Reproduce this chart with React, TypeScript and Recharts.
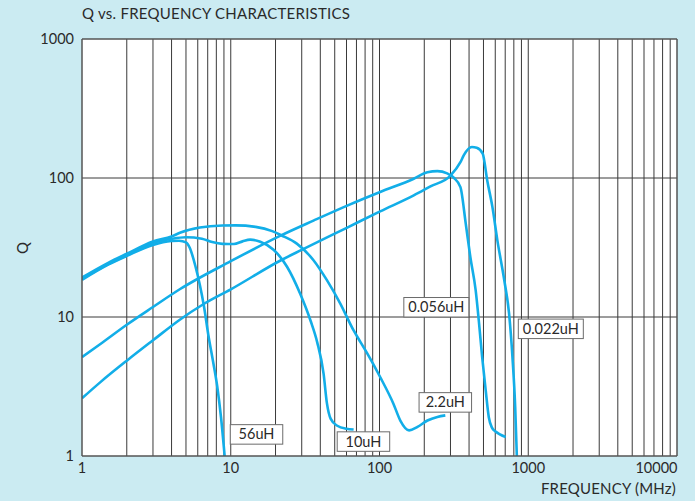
import React from 'react';
import { LineChart, Line, XAxis, YAxis, CartesianGrid, ReferenceLine, ReferenceDot } from 'recharts';

// ---- axis ticks ----
const xTicks = [1, 10, 100, 1000, 10000];
const yTicks = [1, 10, 100, 1000];
const yGridValues = [10, 100];

// vertical minor grid values (1..9 x 10^k)
const xGridValues: number[] = [];
for (let k = 0; k < 4; k++) {
  for (let m = 1; m <= 9; m++) {
    if (k === 0 && m === 1) continue;
    xGridValues.push(m * Math.pow(10, k));
  }
}

// ---- series: [frequency MHz, Q] ----
const q56uH: [number, number][] = [
  [1, 18.5], [1.5, 23.8], [2, 27.5], [3, 33], [4, 35.2], [4.5, 35.4], [5, 34.4], [5.3, 31.5],
  [5.8, 23], [6.2, 17], [6.6, 12], [7.1, 7.2], [7.6, 4.8], [8.1, 3.2], [8.6, 1.9], [9.1, 1],
];
const q10uH: [number, number][] = [
  [1, 18.8], [1.5, 24], [2, 27.8], [3, 34], [4, 36.5], [5, 37.5], [6.4, 36.6], [7.5, 34.6],
  [8.8, 33.6], [10.5, 33.5], [12, 35], [13.5, 36], [15.8, 34.8], [19.4, 30.5], [23.9, 23],
  [29.3, 14.7], [34.4, 9.4], [38.1, 6.6], [42.1, 3.9], [44.3, 2.4], [47, 1.85], [52, 1.65],
  [60, 1.57], [67, 1.55],
];
const q2_2uH: [number, number][] = [
  [1, 19.2], [1.5, 24.5], [2, 28.5], [3, 35], [4, 38], [4.6, 40.5], [6.2, 44], [8.8, 45.5],
  [10.8, 45.6], [14.7, 44.5], [19, 41.5], [22, 38.6], [27.8, 33.7], [36, 25.6], [44.3, 18.4],
  [54.5, 12.5], [67, 8.0], [74.5, 6.6], [82.5, 5.5], [101, 3.7], [124, 2.38], [138, 1.8],
  [158, 1.53], [180, 1.62], [210, 1.8], [245, 1.91], [277, 1.96],
];
const q0_056uH: [number, number][] = [
  [1, 5.15], [1.33, 6.4], [2, 8.8], [3, 11.8], [4.57, 15.9], [10, 25.2], [21.6, 38.5], [36, 49.4],
  [60.7, 63.3], [101, 79.3], [170, 98.8], [210, 110], [245, 112], [285, 108], [317, 100],
  [350, 86], [380, 47], [408, 27], [443, 15.6], [467, 9], [490, 5.15], [517, 3.0], [543, 1.9],
  [570, 1.6], [603, 1.5], [705, 1.37],
];
const q0_022uH: [number, number][] = [
  [1, 2.6], [1.33, 3.4], [2, 4.85], [3, 6.8], [4.57, 9.6], [6.5, 12.3], [10, 15.8], [21.6, 25.5],
  [30.2, 30.5], [60.7, 44], [101, 57.5], [170, 75], [220, 87], [300, 104], [350, 130], [369, 146],
  [418, 167], [450, 165], [494, 150], [530, 96], [574, 62], [620, 35.6], [690, 18.4],
  [743, 10.6], [783, 5.15], [817, 2.25], [838, 1],
];

const seriesList = [
  { name: '56uH', points: q56uH },
  { name: '10uH', points: q10uH },
  { name: '2.2uH', points: q2_2uH },
  { name: '0.056uH', points: q0_056uH },
  { name: '0.022uH', points: q0_022uH },
];

// annotation boxes, anchored in data coordinates
const annotations = [
  { text: '56uH', f: 14.9, q: 1.43 },
  { text: '10uH', f: 78, q: 1.27 },
  { text: '2.2uH', f: 277, q: 2.43 },
  { text: '0.056uH', f: 241, q: 11.75 },
  { text: '0.022uH', f: 1418, q: 8.22 },
];

const FONT = 'Lato, "Open Sans", sans-serif';
const TEXT = '#2a2a2a';
const CURVE = '#12aee8';
const GRID = '#3a3a3a';

const XTick = (props: any) => {
  const { x, y, payload } = props;
  const last = payload.value === 10000;
  return (
    <text x={last ? x + 0.5 : x} y={y} dy={17} textAnchor={last ? 'end' : 'middle'}
      fontFamily={FONT} fontSize={14.5} fill={TEXT}>
      {payload.value}
    </text>
  );
};

const YTick = (props: any) => {
  const { x, y, payload } = props;
  return (
    <text x={x - 8} y={y} dy={5} textAnchor="end" fontFamily={FONT} fontSize={14.5} fill={TEXT}>
      {payload.value}
    </text>
  );
};

const AnnotationBox = (text: string) => (props: any) => {
  const { cx, cy } = props;
  const w = text.length > 5 ? 65 : 52.5;
  const h = 19.5;
  return (
    <g>
      <rect x={cx - w / 2} y={cy - h / 2} width={w} height={h} fill="#fff" stroke="#6b6b6b" strokeWidth={1} />
      <text x={cx} y={cy} dy={5} textAnchor="middle" fontFamily={FONT} fontSize={14.5} fill={TEXT}>
        {text}
      </text>
    </g>
  );
};

export default function App() {
  return (
    <div style={{ position: 'absolute', left: 0, top: 0, width: 695, height: 501, background: '#cbebf2', overflow: 'hidden' }}>
      <div style={{ position: 'absolute', left: 82, top: 4, fontFamily: FONT, fontSize: 15, letterSpacing: 0.25, color: TEXT, whiteSpace: 'nowrap' }}>
        Q vs. FREQUENCY CHARACTERISTICS
      </div>
      <div style={{ position: 'absolute', left: 15, top: 240, width: 14, height: 16, fontFamily: FONT, fontSize: 15, color: TEXT, transform: 'rotate(-90deg)', lineHeight: '16px', textAlign: 'center' }}>
        Q
      </div>
      <div style={{ position: 'absolute', right: 19, top: 479, fontFamily: FONT, fontSize: 15, letterSpacing: 0.2, color: TEXT, whiteSpace: 'nowrap' }}>
        FREQUENCY (MHz)
      </div>
      <div style={{ position: 'absolute', left: 0, top: 0 }}>
        <LineChart width={695} height={501} margin={{ top: 39, right: 18, bottom: 0, left: 0 }}>
          <CartesianGrid horizontal={false} vertical={false} fill="#ffffff" />
          <XAxis
            dataKey="f" type="number" scale="log" domain={[1, 10000]} ticks={xTicks}
            allowDataOverflow height={45} tickLine={false} tickSize={0} tickMargin={0}
            axisLine={{ stroke: '#555', strokeWidth: 1.5 }} tick={<XTick />} interval={0}
          />
          <YAxis
            dataKey="q" type="number" scale="log" domain={[1, 1000]} ticks={yTicks}
            allowDataOverflow width={82} tickLine={false} tickSize={0} tickMargin={0}
            axisLine={{ stroke: '#555', strokeWidth: 1.5 }} tick={<YTick />} interval={0}
          />
          {xGridValues.map((v) => (
            <ReferenceLine key={'gx' + v} x={v} stroke={GRID} strokeWidth={1} />
          ))}
          {yGridValues.map((v) => (
            <ReferenceLine key={'gy' + v} y={v} stroke={GRID} strokeWidth={1} />
          ))}
          <ReferenceLine y={1000} stroke="#555" strokeWidth={1.5} />
          <ReferenceLine x={10000} stroke="#555" strokeWidth={1.5} />
          {seriesList.map((s) => (
            <Line
              key={s.name}
              name={s.name}
              data={s.points.map(([f, q]) => ({ f, q }))}
              dataKey="q"
              type="monotone"
              stroke={CURVE}
              strokeWidth={2.6}
              dot={false}
              activeDot={false}
              isAnimationActive={false}
            />
          ))}
          {annotations.map((a) => (
            <ReferenceDot key={a.text} x={a.f} y={a.q} r={0} shape={AnnotationBox(a.text)} />
          ))}
        </LineChart>
      </div>
    </div>
  );
}
